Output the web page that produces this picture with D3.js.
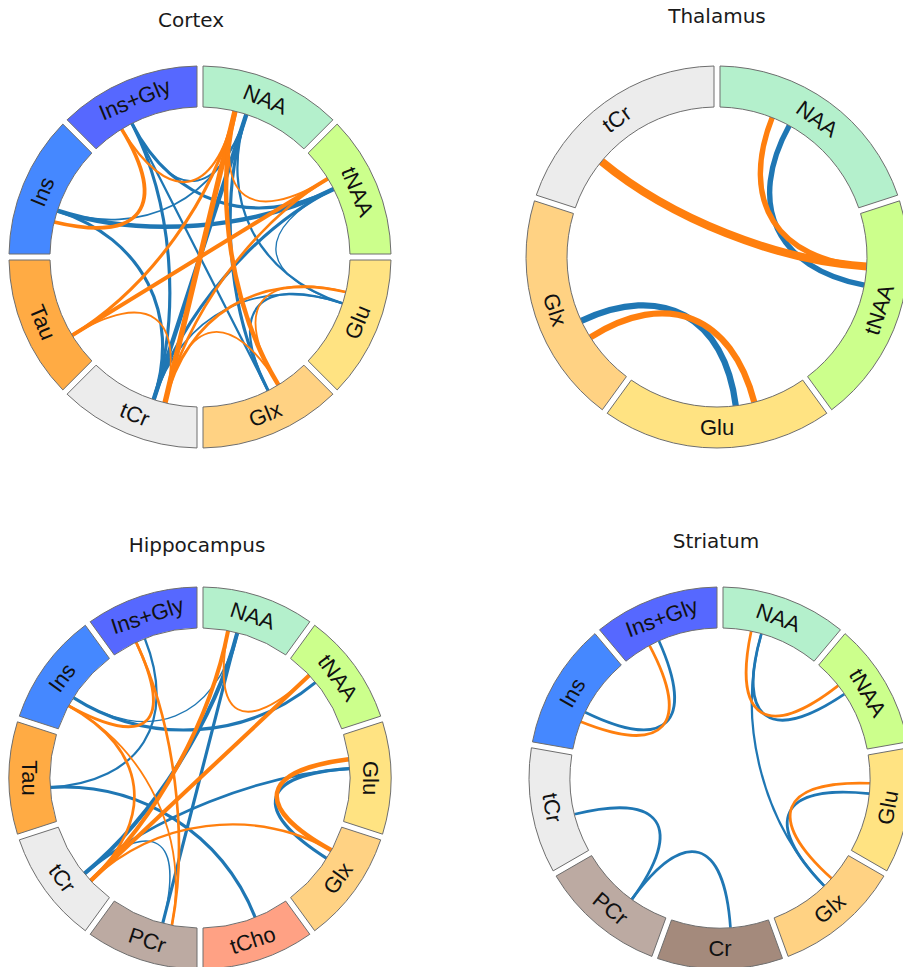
<!DOCTYPE html>
<html>
<head>
<meta charset="utf-8">
<script src="https://cdn.jsdelivr.net/npm/d3@7"></script>
<style>
  body { margin: 0; background: #fff; }
</style>
</head>
<body>
<div id="chart"></div>
<script>
// Nodes of each region, clockwise from 12 o'clock
const cortexNodes = ["NAA", "tNAA", "Glu", "Glx", "tCr", "Tau", "Ins", "Ins+Gly"];
const thalamusNodes = ["NAA", "tNAA", "Glu", "Glx", "tCr"];
const hippocampusNodes = ["NAA", "tNAA", "Glu", "Glx", "tCho", "PCr", "tCr", "Tau", "Ins", "Ins+Gly"];
const striatumNodes = ["NAA", "tNAA", "Glu", "Glx", "Cr", "PCr", "tCr", "Ins", "Ins+Gly"];

// Links: [source, target, sign, strength]  (pos = blue, neg = orange)
const cortexLinks = [
  ["Ins+Gly", "tNAA", "pos", 0.35],
  ["Ins+Gly", "tCr", "pos", 0.35],
  ["Ins+Gly", "NAA", "pos", 0.2],
  ["Ins+Gly", "Glx", "pos", 0.25],
  ["NAA", "tCr", "pos", 0.5],
  ["NAA", "Glx", "pos", 0.35],
  ["NAA", "Glu", "pos", 0.25],
  ["NAA", "Ins", "pos", 0.2],
  ["tNAA", "Ins", "pos", 0.5],
  ["tNAA", "tCr", "pos", 0.35],
  ["tNAA", "Glu", "pos", 0.15],
  ["Glu", "Glx", "pos", 0.25],
  ["Glu", "tCr", "pos", 0.2],
  ["Ins", "tCr", "pos", 0.35],
  ["Ins+Gly", "NAA", "neg", 0.25],
  ["Ins+Gly", "Ins", "neg", 0.4],
  ["NAA", "tCr", "neg", 0.6],
  ["NAA", "Tau", "neg", 0.35],
  ["Tau", "tNAA", "neg", 0.45],
  ["Tau", "tCr", "neg", 0.2],
  ["NAA", "tNAA", "neg", 0.2],
  ["tNAA", "tCr", "neg", 0.3],
  ["Glu", "tCr", "neg", 0.3],
  ["Glu", "Glx", "neg", 0.2],
  ["tCr", "Glx", "neg", 0.2],
  ["NAA", "Glx", "neg", 0.5]
];
const thalamusLinks = [
  ["NAA", "tNAA", "pos", 0.6],
  ["Glx", "Glu", "pos", 0.7],
  ["NAA", "tNAA", "neg", 0.6],
  ["Glx", "Glu", "neg", 0.7],
  ["tCr", "tNAA", "neg", 0.9]
];
const hippocampusLinks = [
  ["Ins+Gly", "Tau", "pos", 0.25],
  ["Ins", "tNAA", "pos", 0.35],
  ["Ins", "NAA", "pos", 0.15],
  ["Tau", "tCho", "pos", 0.35],
  ["NAA", "tCr", "pos", 0.45],
  ["NAA", "PCr", "pos", 0.35],
  ["Glu", "Glx", "pos", 0.35],
  ["Glu", "tCr", "pos", 0.3],
  ["tCr", "PCr", "pos", 0.15],
  ["Ins+Gly", "PCr", "neg", 0.3],
  ["Ins", "Ins+Gly", "neg", 0.3],
  ["Ins", "tCr", "neg", 0.3],
  ["Ins", "PCr", "neg", 0.2],
  ["NAA", "tCr", "neg", 0.45],
  ["NAA", "tNAA", "neg", 0.2],
  ["tNAA", "tCr", "neg", 0.45],
  ["Glu", "Glx", "neg", 0.5],
  ["Glx", "tCr", "neg", 0.25]
];
const striatumLinks = [
  ["Ins+Gly", "Ins", "pos", 0.3],
  ["NAA", "tNAA", "pos", 0.3],
  ["Glu", "Glx", "pos", 0.3],
  ["NAA", "Glx", "pos", 0.25],
  ["tCr", "PCr", "pos", 0.3],
  ["PCr", "Cr", "pos", 0.3],
  ["Ins+Gly", "Ins", "neg", 0.3],
  ["NAA", "tNAA", "neg", 0.3],
  ["Glu", "Glx", "neg", 0.3]
];

// Set the dimensions of the figure
const width = 903, height = 967;
const innerR = 150, outerR = 191;
const ctrl = 0.4;  // bezier control points pulled toward the center

const svg = d3.select("#chart")
  .append("svg")
  .attr("width", width)
  .attr("height", height);

// Colors
const nodeColor = d3.scaleOrdinal()
  .domain(["NAA", "tNAA", "Glu", "Glx", "tCr", "Tau", "Ins", "Ins+Gly", "tCho", "PCr", "Cr"])
  .range(["#b4f0cc", "#ccff8c", "#ffe382", "#ffd283", "#ececec", "#ffab44", "#4588ff", "#5668ff", "#ffa184", "#bcaaa2", "#a48a7c"]);
const linkColor = d3.scaleOrdinal().domain(["pos", "neg"]).range(["#1f77b4", "#ff7f0e"]);
const linkWidth = d3.scaleLinear().domain([0, 1]).range([0, 9]);

const panels = [
  {title: "Cortex", nodes: cortexNodes, links: cortexLinks, cx: 200, cy: 257, tx: 191, ty: 27},
  {title: "Thalamus", nodes: thalamusNodes, links: thalamusLinks, cx: 717, cy: 257, tx: 717, ty: 23},
  {title: "Hippocampus", nodes: hippocampusNodes, links: hippocampusLinks, cx: 200, cy: 778, tx: 197, ty: 552},
  {title: "Striatum", nodes: striatumNodes, links: striatumLinks, cx: 720, cy: 778, tx: 716, ty: 548}
];

const pt = (a, r) => [r * Math.sin(a), -r * Math.cos(a)];

function drawCircle(p) {
  // title
  svg.append("text")
    .attr("x", p.tx)
    .attr("y", p.ty)
    .attr("text-anchor", "middle")
    .style("font", "20px 'DejaVu Sans'")
    .attr("fill", "#1a1a1a")
    .text(p.title);

  const g = svg.append("g")
    .attr("transform", `translate(${p.cx}, ${p.cy})`);

  const angle = d3.scaleBand()
    .domain(p.nodes)
    .range([0, 2 * Math.PI]);
  const bw = angle.bandwidth();

  // anchor point of a link on its node: orange a bit before blue
  const anchor = (name, sign) => angle(name) + bw * (sign === "neg" ? 0.3 : 0.4);

  //links
  g.selectAll(".link")
    .data(p.links)
    .join("path")
    .attr("class", "link")
    .attr("d", d => {
      const a0 = anchor(d[0], d[2]), a1 = anchor(d[1], d[2]);
      const path = d3.path();
      path.moveTo(...pt(a0, innerR));
      path.bezierCurveTo(...pt(a0, innerR * ctrl), ...pt(a1, innerR * ctrl), ...pt(a1, innerR));
      return path.toString();
    })
    .attr("fill", "none")
    .attr("stroke", d => linkColor(d[2]))
    .attr("stroke-width", d => linkWidth(d[3]));

  //ring segments
  const arc = d3.arc()
    .innerRadius(innerR)
    .outerRadius(outerR)
    .padAngle(6 / 170)
    .padRadius(170);

  g.selectAll(".seg")
    .data(p.nodes)
    .join("path")
    .attr("class", "seg")
    .attr("d", d => arc({startAngle: angle(d), endAngle: angle(d) + bw}))
    .attr("fill", d => nodeColor(d))
    .attr("stroke", "#6e6e6e")
    .attr("stroke-width", 1);

  //segment labels, rotated along the ring
  const midR = (innerR + outerR) / 2;
  g.selectAll(".lbl")
    .data(p.nodes)
    .join("text")
    .attr("class", "lbl")
    .attr("transform", d => {
      const a = angle(d) + bw / 2;
      const deg = a * 180 / Math.PI;
      const rot = (deg > 90.5 && deg <= 270.5) ? deg - 180 : deg;
      const [x, y] = pt(a, midR);
      return `translate(${x}, ${y}) rotate(${rot})`;
    })
    .attr("text-anchor", "middle")
    .attr("dominant-baseline", "central")
    .style("font", "22px 'Liberation Sans', Arial, sans-serif")
    .attr("fill", "#111")
    .text(d => d);
}

panels.forEach(drawCircle);
</script>
</body>
</html>
